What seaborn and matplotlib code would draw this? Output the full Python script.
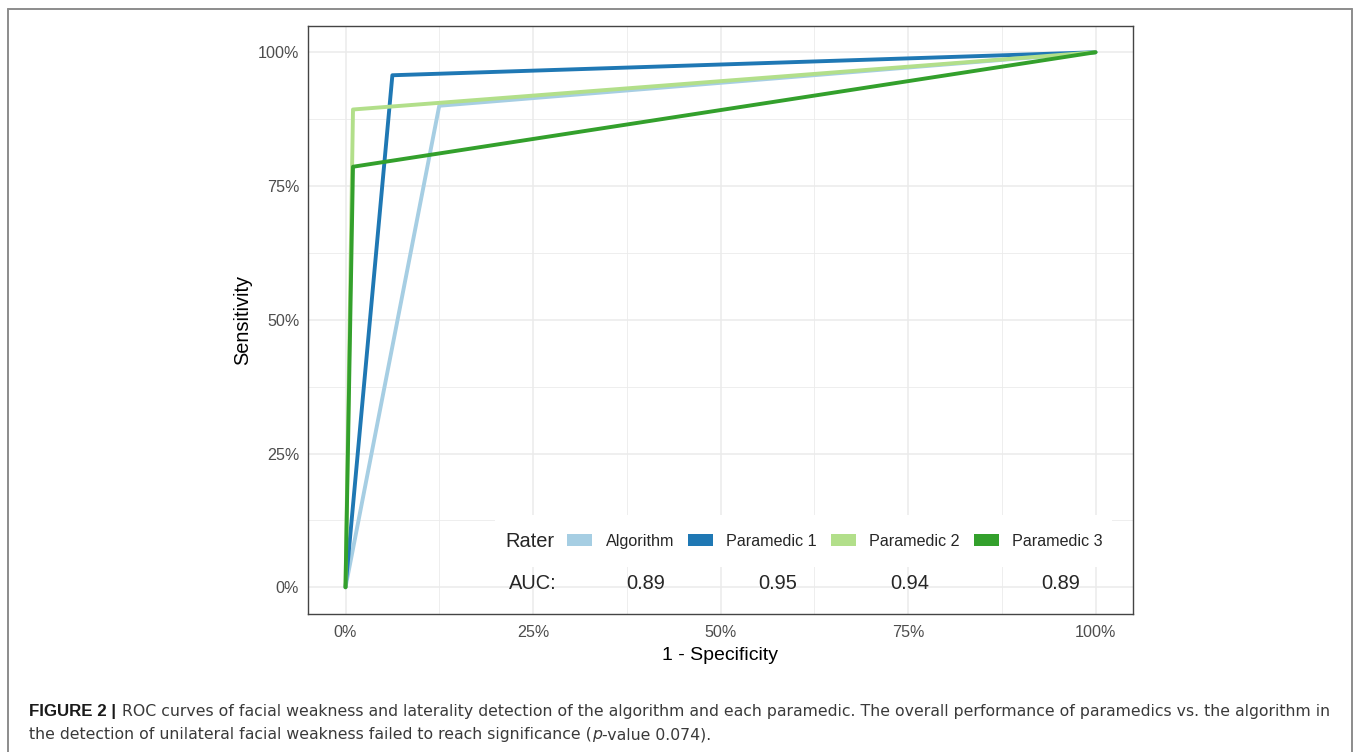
import pandas as pd
import matplotlib.pyplot as plt
import seaborn as sns
from matplotlib.patches import Patch, Rectangle
from matplotlib.lines import Line2D
from matplotlib.ticker import FixedLocator, PercentFormatter

# ------------------------------------------------------------
# data
# ------------------------------------------------------------
raters = ['Algorithm', 'Paramedic 1', 'Paramedic 2', 'Paramedic 3']
start_pt = (0.0, 0.0)
knee_fpr = [0.125, 0.0625, 0.010, 0.010]
knee_tpr = [0.900, 0.957, 0.893, 0.786]
end_pt = (1.0, 1.0)
auc_values = ['0.89', '0.95', '0.94', '0.89']
colors = ['#a6cee3', '#1f78b4', '#b2df8a', '#33a02c']
major_ticks = [0, 0.25, 0.5, 0.75, 1.0]
minor_ticks = [0.125, 0.375, 0.625, 0.875]

rows = []
for r, fx, ty in zip(raters, knee_fpr, knee_tpr):
    for x, y in [start_pt, (fx, ty), end_pt]:
        rows.append({'rater': r, 'fpr': x, 'tpr': y})
df_roc = pd.DataFrame(rows)

# ------------------------------------------------------------
# style
# ------------------------------------------------------------
sns.set_style('white')
plt.rcParams['font.family'] = ['Liberation Sans', 'DejaVu Sans']

W, H = 1362, 752
fig = plt.figure(figsize=(W / 100, H / 100), dpi=100)
ax = fig.add_axes([308 / W, (H - 614) / H, 825 / W, 588.5 / H])

sns.lineplot(data=df_roc, x='fpr', y='tpr', hue='rater', palette=colors,
             sort=False, estimator=None, lw=2.8, legend=False, ax=ax)

ax.set_xlim(-0.05, 1.05)
ax.set_ylim(-0.05, 1.05)
for axis in [ax.xaxis, ax.yaxis]:
    axis.set_major_locator(FixedLocator(major_ticks))
    axis.set_minor_locator(FixedLocator(minor_ticks))
    axis.set_major_formatter(PercentFormatter(1.0, decimals=0))
ax.set_axisbelow(True)
ax.grid(which='major', color='#ebebeb', lw=1.1)
ax.grid(which='minor', color='#ebebeb', lw=0.6)
ax.tick_params(which='major', length=3.5, width=0.9, color='#333333',
               labelsize=11.6, labelcolor='#4d4d4d', pad=2.8)
ax.tick_params(axis='x', which='major', pad=4.2)
ax.tick_params(which='minor', length=0)
for s in ax.spines.values():
    s.set_color('#444444')
    s.set_linewidth(1.0)

ax.set_xlabel('1 - Specificity', fontsize=14, color='black', labelpad=5.5)
ax.set_ylabel('Sensitivity', fontsize=14.4, color='black', labelpad=4)

# legend (inside the panel, bottom right)
ax.add_patch(Rectangle((0.2267, 0.0799), 0.748, 0.0883, transform=ax.transAxes,
                       facecolor='white', edgecolor='none', zorder=1))
ax.text(0.2388, 0.124, 'Rater', transform=ax.transAxes, fontsize=14.4,
        va='center', ha='left', zorder=3)
handles = [Patch(facecolor=c, edgecolor='none', label=r) for c, r in zip(colors, raters)]
ax.legend(handles=handles, ncol=4, frameon=False, loc='center left',
          bbox_to_anchor=(0.3139, 0.124), fontsize=11.6, borderpad=0,
          borderaxespad=0, handlelength=1.55, handleheight=0.8,
          handletextpad=0.85, columnspacing=0.85)

# AUC row
auc_x = [0.4097, 0.5697, 0.7297, 0.9127]
ax.text(0.2727, 0.051, 'AUC:', transform=ax.transAxes, fontsize=14.4,
        ha='center', va='center')
for xp, v in zip(auc_x, auc_values):
    ax.text(xp, 0.051, v, transform=ax.transAxes, fontsize=14.4,
            ha='center', va='center')

# outer frame (open at the bottom)
frame_c = '#8c8c8c'
fig.add_artist(Line2D([8 / W, 8 / W], [0, 1 - 9 / H], color=frame_c, lw=1.4))
fig.add_artist(Line2D([8 / W, 1352 / W], [1 - 9 / H, 1 - 9 / H], color=frame_c, lw=1.4))
fig.add_artist(Line2D([1352 / W, 1352 / W], [0, 1 - 9 / H], color=frame_c, lw=1.4))

# caption
fig.canvas.draw()
rend = fig.canvas.get_renderer()
cap_font = ['DejaVu Sans']
cap_size = 11.3
cap_c = '#3a3a3a'
y1 = (H - 716) / H
y2 = (H - 739) / H
t = fig.text(29 / W, y1, 'FIGURE 2 |', fontsize=12.2, weight='bold',
             color='#1a1a1a', va='baseline')
bb = t.get_window_extent(rend)
fig.text((bb.x1 + 6) / W, y1,
         'ROC curves of facial weakness and laterality detection of the algorithm and each '
         'paramedic. The overall performance of paramedics vs. the algorithm in',
         fontsize=cap_size, color=cap_c, va='baseline', family=cap_font)
t = fig.text(29 / W, y2,
             'the detection of unilateral facial weakness failed to reach significance (',
             fontsize=cap_size, color=cap_c, va='baseline', family=cap_font)
bb = t.get_window_extent(rend)
t = fig.text(bb.x1 / W, y2, 'p', fontsize=cap_size, style='italic',
             color=cap_c, va='baseline', family=cap_font)
bb = t.get_window_extent(rend)
fig.text(bb.x1 / W, y2, '-value 0.074).', fontsize=cap_size, color=cap_c,
         va='baseline', family=cap_font)

fig.savefig('out.png', dpi=100)
